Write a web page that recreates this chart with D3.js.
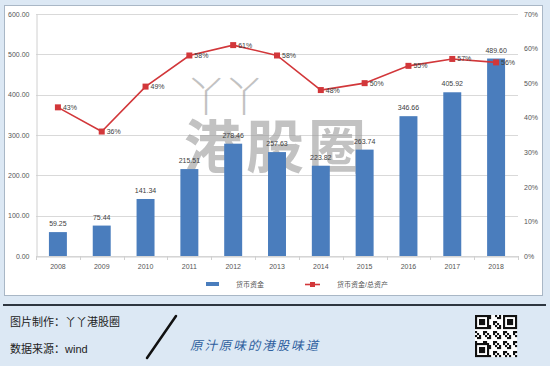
<!DOCTYPE html>
<html>
<head>
<meta charset="utf-8">
<script src="https://cdn.jsdelivr.net/npm/d3@7"></script>
<style>
  body { margin: 0; background: #dce8f4; }
  svg { display: block; }
  text { font-family: "Liberation Sans", "Noto Sans CJK SC", sans-serif; }
</style>
</head>
<body>
<div class="mainCont"></div>
<script>
var years = ["2008", "2009", "2010", "2011", "2012", "2013", "2014", "2015", "2016", "2017", "2018"];
var cash = [59.25, 75.44, 141.34, 215.51, 278.46, 257.63, 223.82, 263.74, 346.66, 405.92, 489.60];
var ratio = [43, 36, 49, 58, 61, 58, 48, 50, 55, 57, 56];
var leftTicks = [0, 100, 200, 300, 400, 500, 600];
var rightTicks = [0, 10, 20, 30, 40, 50, 60, 70];
var seriesNames = ["货币资金", "货币资金/总资产"];

var W = 550, H = 366;
var plot = { left: 36, right: 518, top: 14, bottom: 256 };
var barColor = "#4a7dbd", lineColor = "#d2373a";

var svg = d3.select(".mainCont").append("svg")
    .attr("width", W)
    .attr("height", H);

// page background + chart panel
svg.append("rect").attr("width", W).attr("height", H).attr("fill", "#dce8f4");
svg.append("rect")
    .attr("x", 4.5).attr("y", 5.5)
    .attr("width", 538).attr("height", 290)
    .attr("fill", "#fff")
    .attr("stroke", "#a9b7c6");

var x = d3.scaleBand()
    .domain(years)
    .range([plot.left, plot.right])
    .paddingInner(0.59)
    .paddingOuter(0.295);

var xOuter = d3.scaleBand().domain(years).range([plot.left, plot.right]);

var y = d3.scaleLinear().domain([0, 600]).range([plot.bottom, plot.top]);
var y2 = d3.scaleLinear().domain([0, 70]).range([plot.bottom, plot.top]);

// grid lines
svg.append("g").selectAll("line")
    .data(leftTicks)
    .enter().append("line")
    .attr("x1", plot.left).attr("x2", plot.right)
    .attr("y1", function(d) { return Math.round(y(d)) + 0.5; })
    .attr("y2", function(d) { return Math.round(y(d)) + 0.5; })
    .attr("stroke", "#d9d9d9");

// left axis
var leftAxis = svg.append("g")
    .attr("transform", "translate(" + (plot.left + 0.5) + ",0)")
    .call(d3.axisLeft(y).tickValues(leftTicks).tickSize(0).tickPadding(7)
        .tickFormat(d3.format(".2f")));
leftAxis.select(".domain").attr("stroke", "#d0d0d0");
leftAxis.selectAll("text").attr("font-size", 7).attr("fill", "#555");

// right axis
var rightAxis = svg.append("g")
    .attr("transform", "translate(" + plot.right + ",0)")
    .call(d3.axisRight(y2).tickValues(rightTicks).tickSize(0).tickPadding(6)
        .tickFormat(function(d) { return d + "%"; }));
rightAxis.select(".domain").remove();
rightAxis.selectAll("text").attr("font-size", 7).attr("fill", "#555");

// bottom axis
var bottomAxis = svg.append("g")
    .attr("transform", "translate(0," + (plot.bottom + 0.5) + ")")
    .call(d3.axisBottom(x).tickSize(0).tickPadding(8));
bottomAxis.select(".domain").attr("stroke", "#d0d0d0");
bottomAxis.selectAll("text").attr("font-size", 7).attr("fill", "#555");
svg.append("g").selectAll("line")
    .data(years.concat(["end"]))
    .enter().append("line")
    .attr("x1", function(d, i) { return Math.round(plot.left + i * xOuter.step()) + 0.5; })
    .attr("x2", function(d, i) { return Math.round(plot.left + i * xOuter.step()) + 0.5; })
    .attr("y1", plot.bottom).attr("y2", plot.bottom + 4)
    .attr("stroke", "#d0d0d0");

// watermark (behind the bars)
var wm = svg.append("g").attr("fill", "#9a9a9a").attr("opacity", 0.6)
    .style("font-family", "'Noto Sans CJK SC', sans-serif").style("font-weight", "bold");
wm.append("text").attr("x", 185).attr("y", 112).attr("font-size", 42)
    .attr("font-weight", "300").attr("textLength", 80).text("丫丫");
wm.append("text").attr("x", 184).attr("y", 168).attr("font-size", 58)
    .attr("textLength", 182).text("港股圈");

// bars
svg.append("g").selectAll("rect")
    .data(cash)
    .enter().append("rect")
    .attr("x", function(d, i) { return x(years[i]); })
    .attr("y", function(d) { return y(d); })
    .attr("width", x.bandwidth())
    .attr("height", function(d) { return plot.bottom - y(d); })
    .attr("fill", barColor);

// bar labels
svg.append("g").selectAll("text")
    .data(cash)
    .enter().append("text")
    .attr("x", function(d, i) { return x(years[i]) + x.bandwidth() / 2; })
    .attr("y", function(d) { return y(d) - 6; })
    .attr("text-anchor", "middle")
    .attr("font-size", 7)
    .attr("fill", "#404040")
    .text(function(d) { return d.toFixed(2); });

// ratio line
var line = d3.line()
    .x(function(d, i) { return x(years[i]) + x.bandwidth() / 2; })
    .y(function(d) { return y2(d); });

svg.append("path")
    .datum(ratio)
    .attr("d", line)
    .attr("fill", "none")
    .attr("stroke", lineColor)
    .attr("stroke-width", 1.6);

svg.append("g").selectAll("rect")
    .data(ratio)
    .enter().append("rect")
    .attr("x", function(d, i) { return x(years[i]) + x.bandwidth() / 2 - 3; })
    .attr("y", function(d) { return y2(d) - 3; })
    .attr("width", 6).attr("height", 6)
    .attr("fill", lineColor);

svg.append("g").selectAll("text")
    .data(ratio)
    .enter().append("text")
    .attr("x", function(d, i) { return x(years[i]) + x.bandwidth() / 2 + 5; })
    .attr("y", function(d) { return y2(d) + 2.5; })
    .attr("font-size", 7)
    .attr("fill", "#404040")
    .text(function(d) { return d + "%"; });

// legend
var legend = svg.append("g").style("font-family", "'Noto Serif CJK SC', 'Noto Sans CJK SC', serif");
legend.append("rect").attr("x", 206).attr("y", 282).attr("width", 13).attr("height", 4).attr("fill", barColor);
legend.append("text").attr("x", 236).attr("y", 287).attr("font-size", 7).attr("fill", "#555").text(seriesNames[0]);
legend.append("line").attr("x1", 305).attr("x2", 320).attr("y1", 284.5).attr("y2", 284.5)
    .attr("stroke", lineColor).attr("stroke-width", 1.6);
legend.append("rect").attr("x", 310).attr("y", 282).attr("width", 5).attr("height", 5).attr("fill", lineColor);
legend.append("text").attr("x", 337).attr("y", 287).attr("font-size", 7).attr("fill", "#555").text(seriesNames[1]);

// footer
svg.append("line").attr("x1", 3).attr("x2", 546).attr("y1", 305).attr("y2", 305)
    .attr("stroke", "#2e3640").attr("stroke-width", 2);

var foot = svg.append("g").style("font-family", "'Noto Sans CJK SC', sans-serif");
foot.append("text").attr("x", 10).attr("y", 326).attr("font-size", 11).attr("fill", "#222")
    .text("图片制作：丫丫港股圈");
foot.append("text").attr("x", 10).attr("y", 353).attr("font-size", 11).attr("fill", "#222")
    .text("数据来源：wind");
svg.append("line").attr("x1", 147).attr("y1", 358).attr("x2", 176).attr("y2", 316)
    .attr("stroke", "#111").attr("stroke-width", 2.5).attr("stroke-linecap", "round");
foot.append("text").attr("x", 190).attr("y", 350).attr("font-size", 12.5)
    .attr("fill", "#2f5f9e").attr("font-style", "italic").attr("textLength", 128)
    .text("原汁原味的港股味道");

// QR-like badge
var qrN = 21, qrSize = 42, qx = 475, qy = 315, cell = qrSize / qrN;
var qr = svg.append("g");
qr.append("rect").attr("x", qx).attr("y", qy).attr("width", qrSize).attr("height", qrSize).attr("fill", "#fff");
var cells = [];
for (var i = 0; i < qrN; i++) {
    for (var j = 0; j < qrN; j++) {
        var finder = (i < 7 && j < 7) || (i < 7 && j >= qrN - 7) || (i >= qrN - 7 && j < 7);
        if (finder) {
            var li = i < 7 ? i : i - (qrN - 7), lj = j < 7 ? j : j - (qrN - 7);
            var ring = Math.max(Math.abs(li - 3), Math.abs(lj - 3));
            if (ring === 3 || ring <= 1) cells.push([i, j]);
        } else if (((i * 7 + j * 13 + i * j) % 5) < 2) {
            cells.push([i, j]);
        }
    }
}
qr.selectAll("rect.c").data(cells).enter().append("rect")
    .attr("class", "c")
    .attr("x", function(d) { return qx + d[1] * cell; })
    .attr("y", function(d) { return qy + d[0] * cell; })
    .attr("width", cell + 0.1).attr("height", cell + 0.1)
    .attr("fill", "#111");
</script>
</body>
</html>
